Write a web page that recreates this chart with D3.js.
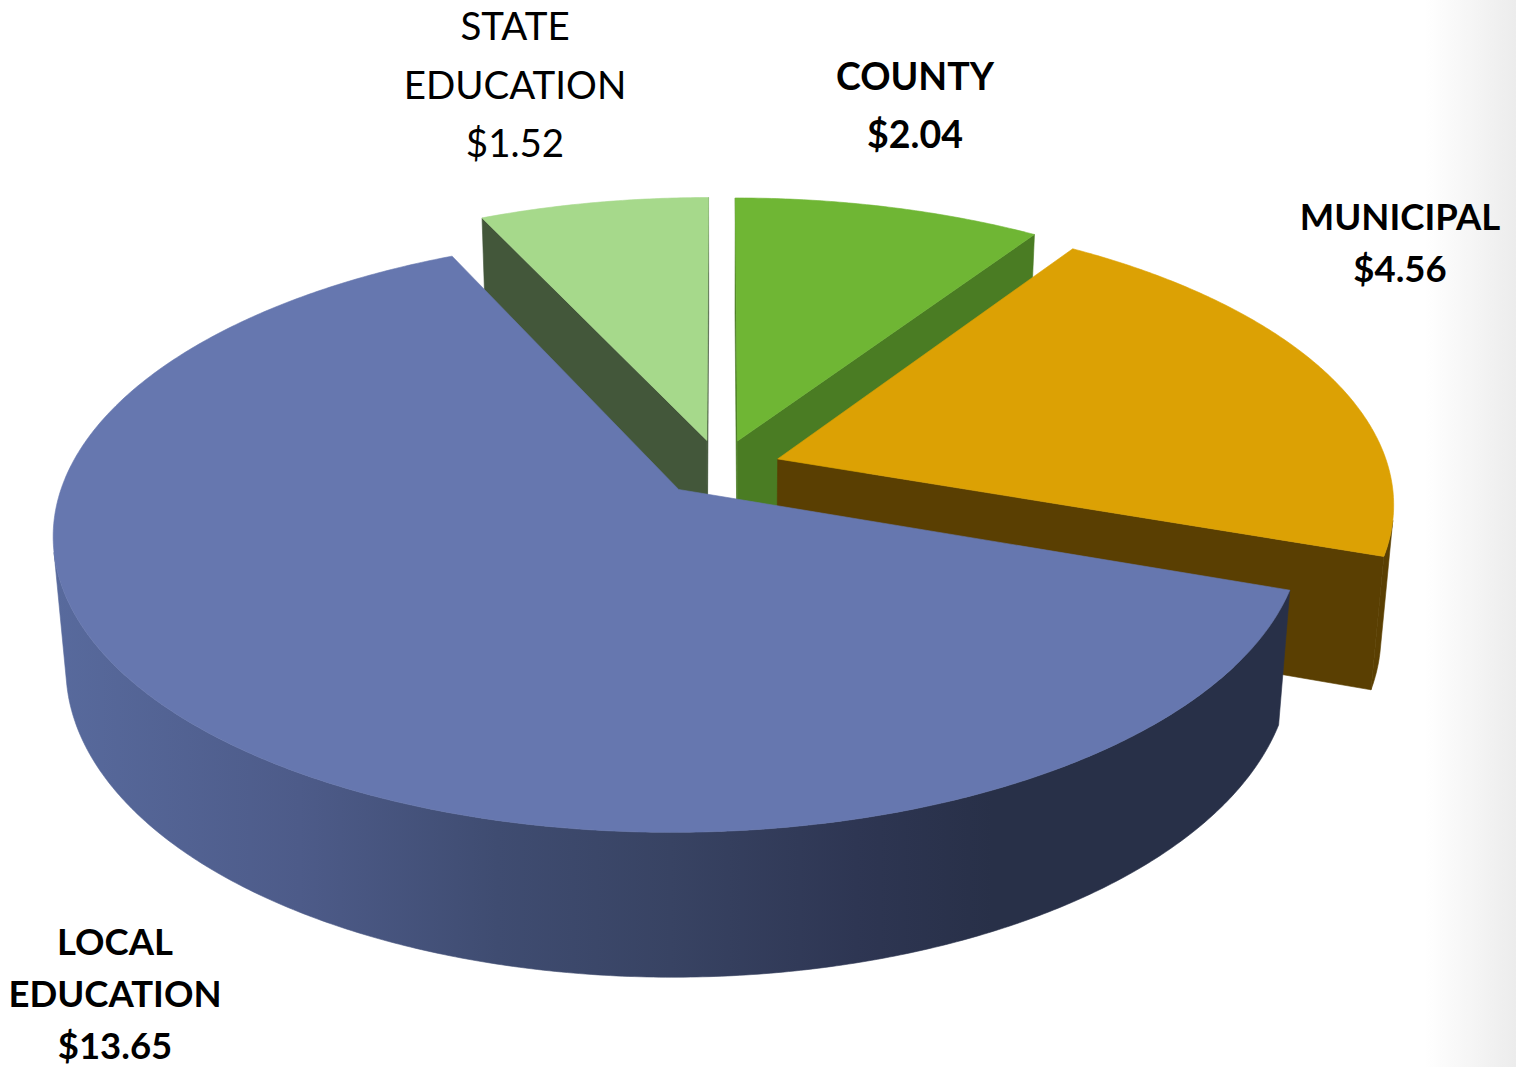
<!DOCTYPE html>
<html>
<head>
<meta charset="utf-8">
<script src="https://cdn.jsdelivr.net/npm/d3@7"></script>
<style>
  body { margin: 0; background: #fff; }
  svg { display: block; }
  text { font-family: Lato, "Open Sans", sans-serif; fill: #000; }
</style>
</head>
<body>
<script>
// slices in clockwise order starting at 12 o'clock
const names = ['COUNTY', 'MUNICIPAL', 'LOCAL EDUCATION', 'STATE EDUCATION'];
const values = [2.04, 4.56, 13.65, 1.52];

const topColors = ['#6FB634', '#DCA104', '#6677AF', '#A6D98B'];
const sideColors = ['#4A7C23', '#5A3F02', 'url(#localSide)', '#43573A'];
const boldLabel = [true, true, true, false];
// label block: centre x, first baseline, line step, font size
const labelSpots = [[915, 90, 58, 37.5], [1400, 230, 52, 36.5], [115, 955, 52, 36.5], [515, 40, 58.5, 38.5]];

const w = 1516;
const h = 1067;

// perspective camera for the 3d pie
const cx = 720, cy = 468, F = 611;
const tilt = 27.9 * Math.PI / 180;
const camDist = 6.05;
const thick = 0.244;
const explode = 0.10;
const sinT = Math.sin(tilt), cosT = Math.cos(tilt);
const cam = [0, -camDist * cosT, camDist * sinT];

const depth = p => 1 + (p[1] * cosT - p[2] * sinT) / camDist;
const project = p => {
  const z = depth(p);
  return [cx + F * p[0] / z, cy - F * (p[1] * sinT + p[2] * cosT) / z];
};
const dist = p => Math.hypot(p[0] - cam[0], p[1] - cam[1], p[2] - cam[2]);
const centroid = pts => [d3.mean(pts, p => p[0]), d3.mean(pts, p => p[1]), d3.mean(pts, p => p[2])];
const facing = (n, pts) => {
  const c = centroid(pts);
  return n[0] * (cam[0] - c[0]) + n[1] * (cam[1] - c[1]) + n[2] * (cam[2] - c[2]) > 0;
};

const svg = d3.select('body').append('svg')
  .attr('width', w)
  .attr('height', h)
  .attr('viewBox', [0, 0, w, h]);

const defs = svg.append('defs');
const edge = defs.append('linearGradient')
  .attr('id', 'edgeShade')
  .attr('x1', 0).attr('x2', 1).attr('y1', 0).attr('y2', 0);
edge.append('stop').attr('offset', 0.94).attr('stop-color', '#ececec').attr('stop-opacity', 0);
edge.append('stop').attr('offset', 1).attr('stop-color', '#ececec').attr('stop-opacity', 1);

const localGrad = defs.append('linearGradient')
  .attr('id', 'localSide')
  .attr('gradientUnits', 'userSpaceOnUse')
  .attr('x1', 52).attr('x2', 1290).attr('y1', 0).attr('y2', 0);
[[0, '#586a9d'], [0.2, '#4d5b89'], [0.36, '#3f4c71'], [0.5, '#384363'],
 [0.65, '#2e3653'], [0.76, '#283048'], [1, '#283048']].forEach(s => {
  localGrad.append('stop').attr('offset', s[0]).attr('stop-color', s[1]);
});

svg.append('rect')
  .attr('width', w).attr('height', h)
  .style('fill', 'url(#edgeShade)');

const arcs = d3.pie().sort(null).value(d => d)(values);
const line = d3.line().curve(d3.curveLinearClosed);

const sides = [];
const tops = [];

arcs.forEach((a, i) => {
  const mid = (a.startAngle + a.endAngle) / 2;
  const off = [explode * Math.sin(mid), explode * Math.cos(mid)];
  const rim = (t, z) => [off[0] + Math.sin(t), off[1] + Math.cos(t), z];
  const apex = z => [off[0], off[1], z];

  const n = Math.max(2, Math.ceil((a.endAngle - a.startAngle) / (Math.PI / 360)));
  const angles = d3.range(n + 1).map(k => a.startAngle + (a.endAngle - a.startAngle) * k / n);

  tops.push({ i, pts: [apex(0), ...angles.map(t => rim(t, 0))] });

  // outer wall, only the part turned to the camera
  let run = [];
  const runs = [];
  angles.forEach(t => {
    const p = rim(t, -thick / 2);
    const ok = Math.sin(t) * (cam[0] - p[0]) + Math.cos(t) * (cam[1] - p[1]) > 0;
    if (ok) run.push(t);
    else if (run.length) { runs.push(run); run = []; }
  });
  if (run.length) runs.push(run);
  runs.filter(r => r.length > 1).forEach(r => {
    const pts = [...r.map(t => rim(t, 0)), ...r.slice().reverse().map(t => rim(t, -thick))];
    sides.push({ i, pts, key: dist(centroid(pts)) });
  });

  // radial walls
  const s0 = a.startAngle, s1 = a.endAngle;
  const startWall = [apex(0), rim(s0, 0), rim(s0, -thick), apex(-thick)];
  const endWall = [apex(0), rim(s1, 0), rim(s1, -thick), apex(-thick)];
  if (facing([-Math.cos(s0), Math.sin(s0), 0], startWall)) {
    sides.push({ i, pts: startWall, key: dist(centroid(startWall)) });
  }
  if (facing([Math.cos(s1), -Math.sin(s1), 0], endWall)) {
    sides.push({ i, pts: endWall, key: dist(centroid(endWall)) });
  }
});

sides.sort((p, q) => q.key - p.key);

svg.append('g').selectAll('path')
  .data(sides)
  .enter().append('path')
    .attr('d', d => line(d.pts.map(project)))
    .style('fill', d => sideColors[d.i])
    .style('stroke', d => sideColors[d.i])
    .style('stroke-width', 0.6);

svg.append('g').selectAll('path')
  .data(tops)
  .enter().append('path')
    .attr('d', d => line(d.pts.map(project)))
    .style('fill', d => topColors[d.i])
    .style('stroke', d => topColors[d.i])
    .style('stroke-width', 0.6);

const money = v => '$' + d3.format('.2f')(v);

const labels = svg.append('g').selectAll('g')
  .data(names)
  .enter().append('g');

labels.each(function(name, i) {
  const spot = labelSpots[i];
  const lines = [...name.split(' '), money(values[i])];
  d3.select(this).selectAll('text')
    .data(lines)
    .enter().append('text')
      .attr('x', spot[0])
      .attr('y', (d, k) => spot[1] + k * spot[2])
      .attr('text-anchor', 'middle')
      .style('font-size', spot[3] + 'px')
      .style('font-weight', boldLabel[i] ? 700 : 400)
      .text(d => d);
});
</script>
</body>
</html>
